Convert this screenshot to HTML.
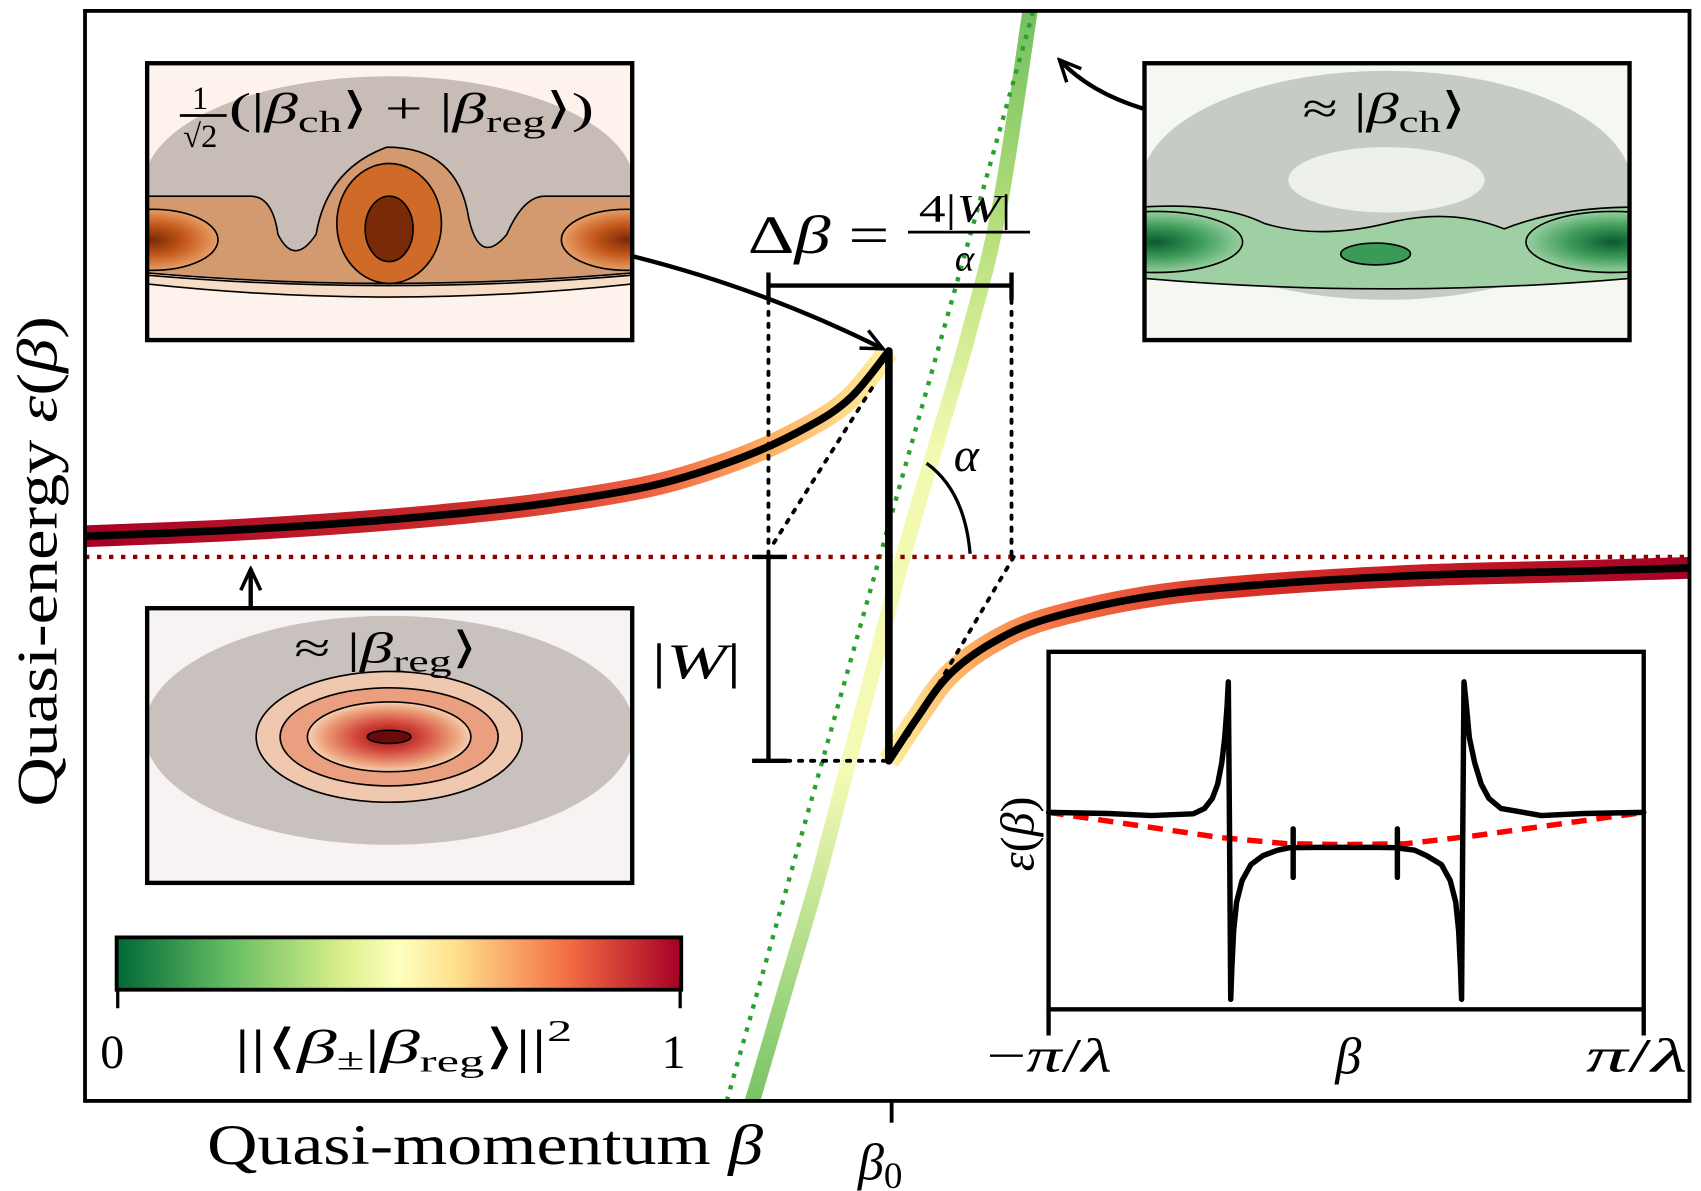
<!DOCTYPE html>
<html><head><meta charset="utf-8"><style>
html,body{margin:0;padding:0;background:#fff;}
svg{display:block;}
text{font-family:"Liberation Serif","DejaVu Serif",serif;fill:#000;}
.it{font-style:italic;}
</style></head><body>
<svg id="fig" width="1701" height="1191" viewBox="0 0 1701 1191" xmlns="http://www.w3.org/2000/svg">
<defs>
<linearGradient id="gUp" gradientUnits="userSpaceOnUse" x1="78" y1="0" x2="815" y2="0">
<stop offset="0" stop-color="#a50026"/><stop offset="0.45" stop-color="#c92a2a"/><stop offset="0.7" stop-color="#ee6040"/><stop offset="0.85" stop-color="#fdae61"/><stop offset="1" stop-color="#fff0a0"/></linearGradient>
<linearGradient id="gLo" gradientUnits="userSpaceOnUse" x1="815" y1="0" x2="1550" y2="0">
<stop offset="0" stop-color="#fff0a0"/><stop offset="0.1" stop-color="#fdae61"/><stop offset="0.22" stop-color="#f46d43"/><stop offset="0.45" stop-color="#d73027"/><stop offset="1" stop-color="#a50026"/></linearGradient>
<linearGradient id="gGr" gradientUnits="userSpaceOnUse" x1="0" y1="1010" x2="0" y2="10">
<stop offset="0" stop-color="#78c465"/><stop offset="0.3" stop-color="#f5fab5"/><stop offset="0.6" stop-color="#f2f9b0"/><stop offset="0.8" stop-color="#b5df7a"/><stop offset="1" stop-color="#72c060"/></linearGradient>
<linearGradient id="gCb" x1="0" y1="0" x2="1" y2="0">
<stop offset="0" stop-color="#006837"/><stop offset="0.2" stop-color="#66bd63"/><stop offset="0.4" stop-color="#d9ef8b"/><stop offset="0.5" stop-color="#ffffbf"/><stop offset="0.6" stop-color="#fee08b"/><stop offset="0.8" stop-color="#f46d43"/><stop offset="1" stop-color="#a50026"/></linearGradient>
<radialGradient id="gOr" cx="0.5" cy="0.5" r="0.5"><stop offset="0" stop-color="#7a2a06"/><stop offset="0.5" stop-color="#c4581a"/><stop offset="1" stop-color="#e8a068"/></radialGradient>
<radialGradient id="gGn" cx="0.5" cy="0.5" r="0.5"><stop offset="0" stop-color="#0b5a2e"/><stop offset="0.5" stop-color="#3a9a58"/><stop offset="1" stop-color="#98cfa0"/></radialGradient>
<radialGradient id="gRd" cx="0.5" cy="0.5" r="0.5"><stop offset="0" stop-color="#8a1010"/><stop offset="0.4" stop-color="#d2443a"/><stop offset="0.8" stop-color="#eca07a"/><stop offset="1" stop-color="#f6d0b4"/></radialGradient>
<clipPath id="c1"><rect x="135" y="58" width="445" height="254"/></clipPath>
<clipPath id="c2"><rect x="1050" y="58" width="445" height="254"/></clipPath>
<clipPath id="c3"><rect x="135" y="558" width="445" height="252"/></clipPath>
<marker id="arr" viewBox="0 0 20 20" refX="18" refY="10" markerWidth="26" markerHeight="26" orient="auto-start-reverse" markerUnits="userSpaceOnUse"><path d="M3,3 L18,10 L3,17" fill="none" stroke="#000" stroke-width="2.5"/></marker>
</defs>
<g id="root" transform="scale(1.09)">
<g>
<g clip-path="url(#c1)">
<rect x="135" y="58" width="445" height="254" fill="#fdf3ec"/>
<ellipse cx="357" cy="170" rx="225" ry="100" fill="#c8bdb6"/>
<path d="M130,180 L230,180 Q250,180 255,215 Q270,245 290,215 Q300,155 355,135 Q420,135 430,200 Q440,245 465,215 Q480,180 500,180 L585,180 L585,250 Q357,270 130,250 Z" fill="#d39a70" stroke="#000" stroke-width="1.5"/>
<path d="M130,252 Q357,272 585,252 L585,260 Q357,285 130,260 Z" fill="#f7dcc6" stroke="#000" stroke-width="1.5"/>
<ellipse cx="357" cy="205" rx="48" ry="55" fill="#cf6a28" stroke="#000" stroke-width="1.5"/>
<ellipse cx="357" cy="210" rx="22" ry="30" fill="#7a2a06" stroke="#000" stroke-width="1.5"/>
<ellipse cx="140" cy="220" rx="60" ry="28" fill="url(#gOr)" stroke="#000" stroke-width="1.5"/>
<ellipse cx="575" cy="220" rx="60" ry="28" fill="url(#gOr)" stroke="#000" stroke-width="1.5"/>
</g>
<rect x="135" y="58" width="445" height="254" fill="none" stroke="#000" stroke-width="4"/>
<text x="176" y="100" font-size="30">1</text>
<line x1="165" y1="106" x2="208" y2="106" stroke="#000" stroke-width="2.5"/>
<text x="168" y="135" font-size="30">√2</text>
<text x="210" y="113" font-size="40" textLength="335" lengthAdjust="spacingAndGlyphs">(|<tspan class="it">β</tspan><tspan font-size="28" dy="8">ch</tspan><tspan dy="-8">⟩ + |</tspan><tspan class="it">β</tspan><tspan font-size="28" dy="8">reg</tspan><tspan dy="-8">⟩)</tspan></text>
</g>
<g>
<g clip-path="url(#c2)">
<rect x="1050" y="58" width="445" height="254" fill="#f4f7f2"/>
<ellipse cx="1272" cy="170" rx="225" ry="105" fill="#c6cbc4"/>
<ellipse cx="1272" cy="165" rx="90" ry="30" fill="#eef0ec"/>
<path d="M1045,190 Q1120,185 1160,205 Q1210,220 1272,205 Q1330,190 1380,210 Q1430,190 1500,190 L1500,255 Q1272,275 1045,255 Z" fill="#9fd0a4" stroke="#000" stroke-width="1.5"/>
<ellipse cx="1060" cy="222" rx="80" ry="28" fill="url(#gGn)" stroke="#000" stroke-width="1.5"/>
<ellipse cx="1480" cy="222" rx="80" ry="28" fill="url(#gGn)" stroke="#000" stroke-width="1.5"/>
<ellipse cx="1262" cy="233" rx="32" ry="10" fill="#3a9a58" stroke="#000" stroke-width="1.5"/>
</g>
<rect x="1050" y="58" width="445" height="254" fill="none" stroke="#000" stroke-width="4"/>
<text x="1195" y="113" font-size="40" textLength="150" lengthAdjust="spacingAndGlyphs">≈ |<tspan class="it">β</tspan><tspan font-size="28" dy="8">ch</tspan><tspan dy="-8">⟩</tspan></text>
</g>
<g>
<g clip-path="url(#c3)">
<rect x="135" y="558" width="445" height="252" fill="#f6f3f2"/>
<ellipse cx="357" cy="670" rx="225" ry="105" fill="#c9c1bd"/>
<ellipse cx="357" cy="676" rx="122" ry="60" fill="#f0c8b0" stroke="#000" stroke-width="1.5"/>
<ellipse cx="357" cy="676" rx="100" ry="45" fill="#eaa080" stroke="#000" stroke-width="1.5"/>
<ellipse cx="357" cy="676" rx="75" ry="32" fill="url(#gRd)" stroke="#000" stroke-width="1.5"/>
<ellipse cx="357" cy="676" rx="20" ry="6" fill="#6a0a0a" stroke="#000" stroke-width="1.5"/>
</g>
<rect x="135" y="558" width="445" height="252" fill="none" stroke="#000" stroke-width="4"/>
<text x="270" y="608" font-size="40" textLength="168" lengthAdjust="spacingAndGlyphs">≈ |<tspan class="it">β</tspan><tspan font-size="28" dy="8">reg</tspan><tspan dy="-8">⟩</tspan></text>
</g>
<g id="main"></g>
<rect x="78" y="10" width="1472" height="1000" fill="none" stroke="#000" stroke-width="3.5"/>
<line x1="818" y1="1010" x2="818" y2="1030" stroke="#000" stroke-width="3.5"/>
<text x="787" y="1082" font-size="48"><tspan class="it">β</tspan><tspan font-size="34" dy="8">0</tspan></text>
<text x="190" y="1068" font-size="52" textLength="510" lengthAdjust="spacingAndGlyphs">Quasi-momentum <tspan class="it">β</tspan></text>
<text transform="translate(52,515) rotate(-90)" text-anchor="middle" font-size="52" textLength="450" lengthAdjust="spacingAndGlyphs">Quasi-energy <tspan class="it">ε</tspan>(<tspan class="it">β</tspan>)</text>
<g stroke="#000" fill="none">
<line x1="705" y1="262" x2="928" y2="262" stroke-width="4"/>
<line x1="705" y1="250" x2="705" y2="275" stroke-width="4"/>
<line x1="928" y1="250" x2="928" y2="275" stroke-width="4"/>
<line x1="705" y1="275" x2="705" y2="511" stroke-width="3.5" stroke-dasharray="3,8" stroke-linecap="round"/>
<line x1="928" y1="275" x2="928" y2="511" stroke-width="3.5" stroke-dasharray="3,8" stroke-linecap="round"/>
<line x1="705" y1="511" x2="705" y2="698" stroke-width="4"/>
<line x1="690" y1="511" x2="722" y2="511" stroke-width="4"/>
<line x1="690" y1="698" x2="722" y2="698" stroke-width="4"/>
<line x1="722" y1="698" x2="815" y2="698" stroke-width="3.5" stroke-dasharray="3,8" stroke-linecap="round"/>
<line x1="710" y1="498" x2="800" y2="356" stroke-width="3.5" stroke-dasharray="3,8" stroke-linecap="round"/>
<line x1="930" y1="511" x2="830" y2="680" stroke-width="3.5" stroke-dasharray="3,8" stroke-linecap="round"/>
<path d="M850,425 Q885,450 890,508" stroke-width="3"/>
<path d="M580,235 Q700,265 810,320" stroke-width="4" marker-end="url(#arr)"/>
<path d="M1050,100 Q1000,85 972,55" stroke-width="4" marker-end="url(#arr)"/>
<line x1="230" y1="556" x2="230" y2="522" stroke-width="4" marker-end="url(#arr)"/>
</g>
<text x="686" y="232" font-size="50" textLength="130" lengthAdjust="spacingAndGlyphs">Δ<tspan class="it">β</tspan> =</text>
<text x="843" y="203" font-size="36" textLength="85" lengthAdjust="spacingAndGlyphs">4|<tspan class="it">W</tspan>|</text>
<line x1="833" y1="213" x2="945" y2="213" stroke="#000" stroke-width="2.5"/>
<text x="876" y="248" font-size="34" class="it">α</text>
<text x="598" y="622" font-size="46" textLength="82" lengthAdjust="spacingAndGlyphs">|<tspan class="it">W</tspan>|</text>
<text x="875" y="432" font-size="44" class="it">α</text>
<rect x="107" y="860" width="518" height="48" fill="url(#gCb)" stroke="#000" stroke-width="3.5"/>
<line x1="108" y1="908" x2="108" y2="925" stroke="#000" stroke-width="3"/>
<line x1="624" y1="908" x2="624" y2="925" stroke="#000" stroke-width="3"/>
<text x="92" y="980" font-size="44">0</text>
<text x="607" y="980" font-size="44">1</text>
<text x="215" y="975" font-size="44" textLength="310" lengthAdjust="spacingAndGlyphs">||⟨<tspan class="it">β</tspan><tspan font-size="28" dy="6">±</tspan><tspan dy="-6">|</tspan><tspan class="it">β</tspan><tspan font-size="28" dy="8">reg</tspan><tspan dy="-8">⟩||</tspan><tspan font-size="28" dy="-20">2</tspan></text>
<g id="mini"></g>
<rect x="962" y="598" width="546" height="328" fill="none" stroke="#000" stroke-width="4"/>
<line x1="962" y1="926" x2="962" y2="950" stroke="#000" stroke-width="4"/>
<line x1="1508" y1="926" x2="1508" y2="950" stroke="#000" stroke-width="4"/>
<text x="905" y="983" font-size="44" textLength="115" lengthAdjust="spacingAndGlyphs">−<tspan class="it">π</tspan>/<tspan class="it">λ</tspan></text>
<text x="1237" y="985" font-size="48" text-anchor="middle" class="it">β</text>
<text x="1455" y="983" font-size="44" textLength="93" lengthAdjust="spacingAndGlyphs"><tspan class="it">π</tspan>/<tspan class="it">λ</tspan></text>
<text transform="translate(948,765) rotate(-90)" text-anchor="middle" font-size="44"><tspan class="it">ε</tspan>(<tspan class="it">β</tspan>)</text>
</g>
</svg>
<script>
// main schematic data (beta: 0..100 across axis, eps: 0..100 up the axis)
const upperBeta = [0, 8.3, 15.1, 21.9, 28.7, 35.5, 40.9, 45, 47.7, 50.1];
const upperEps  = [51.8, 52.3, 52.9, 53.7, 54.8, 56.5, 59, 61.8, 64.5, 68.8];
const lowerBeta = [50.1, 51.8, 53.8, 56.5, 59.9, 66, 72.8, 83, 93.2, 100];
const lowerEps  = [31.2, 35, 39, 42, 44.2, 46.2, 47.3, 48.2, 48.6, 48.9];
const chBeta = [41.6, 43.6, 45.6, 47.4, 49.2, 51, 53, 55, 57, 58.9];
const chEps  = [0, 10, 20, 30, 40, 50, 60, 70, 82, 100];
const diabBeta = [40, 59.1];
const diabEps  = [0, 100];
const regLevel = 49.9;
// inset data (beta frac 0..1, eps frac 0..1)
const miniBeta = [0,0.1,0.172,0.243,0.262,0.275,0.284,0.291,0.296,0.3,0.302,0.304,0.306,0.308,0.311,0.316,0.325,0.34,0.36,0.385,0.405,0.411,0.411,0.411,0.411,0.45,0.5,0.55,0.586,0.586,0.586,0.586,0.592,0.615,0.635,0.66,0.675,0.684,0.689,0.692,0.694,0.696,0.698,0.702,0.707,0.716,0.727,0.74,0.76,0.828,0.9,1];
const miniEps  = [0.551,0.548,0.542,0.547,0.562,0.59,0.63,0.69,0.76,0.85,0.916,0.5,0.028,0.12,0.22,0.3,0.36,0.405,0.43,0.445,0.452,0.452,0.505,0.369,0.452,0.453,0.453,0.453,0.452,0.505,0.369,0.452,0.45,0.445,0.43,0.405,0.36,0.3,0.22,0.12,0.028,0.5,0.916,0.85,0.76,0.69,0.63,0.59,0.562,0.542,0.548,0.551];
const refBeta = [0,0.286,0.4,0.5,0.6,0.714,1];
const refEps  = [0.551,0.481,0.463,0.461,0.463,0.485,0.551];

const NS='http://www.w3.org/2000/svg';
const X=b=>78+b*14.72, Y=e=>1010-e*10;
const mX=b=>962+b*546, mY=e=>926-e*328;
function pts(bs,es,fx,fy){return bs.map((b,i)=>fx(b).toFixed(1)+','+fy(es[i]).toFixed(1));}
function smooth(bs,es,fx,fy){
  const p=bs.map((b,i)=>[fx(b),fy(es[i])]);let d='M'+p[0][0]+','+p[0][1];
  for(let i=1;i<p.length;i++){const p0=p[Math.max(0,i-2)],p1=p[i-1],p2=p[i],p3=p[Math.min(p.length-1,i+1)];
    const c1=[p1[0]+(p2[0]-p0[0])/6,p1[1]+(p2[1]-p0[1])/6],c2=[p2[0]-(p3[0]-p1[0])/6,p2[1]-(p3[1]-p1[1])/6];
    d+=' C'+c1.join(',')+' '+c2.join(',')+' '+p2.join(',');}
  return d;}
function mk(parent,tag,attrs){const el=document.createElementNS(NS,tag);for(const k in attrs)el.setAttribute(k,attrs[k]);parent.appendChild(el);return el;}
const main=document.getElementById('main');
let e;
e=mk(main,'path',{d:smooth(chBeta,chEps,X,Y),fill:'none',stroke:'url(#gGr)','stroke-width':14});


e=mk(main,'line',{x1:X(diabBeta[0]),y1:Y(diabEps[0]),x2:X(diabBeta[1]),y2:Y(diabEps[1]),stroke:'#2ca02c','stroke-width':4,'stroke-dasharray':'4,7'});


e=mk(main,'line',{x1:78,y1:Y(regLevel),x2:1550,y2:Y(regLevel),stroke:'#8b0000','stroke-width':4,'stroke-dasharray':'4,7'});


e=mk(main,'path',{d:smooth(upperBeta,upperEps,X,Y),fill:'none',stroke:'url(#gUp)','stroke-width':20});


e=mk(main,'path',{d:smooth(lowerBeta,lowerEps,X,Y),fill:'none',stroke:'url(#gLo)','stroke-width':20});


e=mk(main,'path',{d:smooth(upperBeta,upperEps,X,Y)+' L'+X(lowerBeta[0])+','+Y(lowerEps[0])+' '+smooth(lowerBeta,lowerEps,X,Y).replace('M',' L'),fill:'none',stroke:'#000','stroke-width':7,'stroke-linejoin':'round'});


const mini=document.getElementById('mini');
e=mk(mini,'polyline',{points:pts(refBeta,refEps,mX,mY).join(' '),fill:'none',stroke:'#ff0000','stroke-width':5,'stroke-dasharray':'14,9'});


e=mk(mini,'polyline',{points:pts(miniBeta,miniEps,mX,mY).join(' '),fill:'none',stroke:'#000','stroke-width':5,'stroke-linejoin':'round','stroke-linecap':'round'});


</script>
</body></html>
